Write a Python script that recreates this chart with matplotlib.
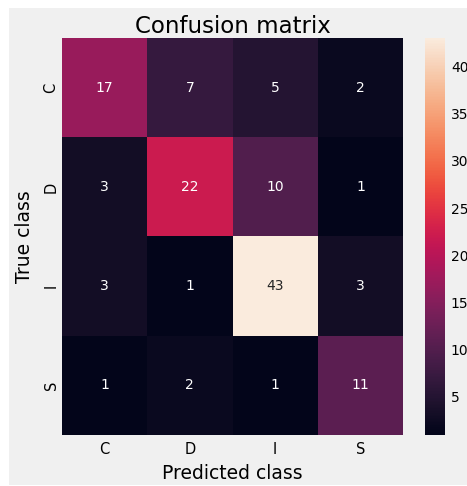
import matplotlib
matplotlib.use("Agg")
import matplotlib.pyplot as plt
from matplotlib.patches import Rectangle
import numpy as np
import seaborn as sns

plt.style.use("fivethirtyeight")

classes = ["C", "D", "I", "S"]
row_C = [17, 7, 5, 2]
row_D = [3, 22, 10, 1]
row_I = [3, 1, 43, 3]
row_S = [1, 2, 1, 11]
matrix = np.array([row_C, row_D, row_I, row_S])

W, H = 467, 486
fig = plt.figure(figsize=(W / 100, H / 100), dpi=100, facecolor="white")
fig.patch.set_linewidth(0)
fig.patches.append(Rectangle((9 / W, 1 / H), 1 - 9 / W, 477 / H,
                             transform=fig.transFigure, facecolor="#f0f0f0",
                             edgecolor="none", linewidth=0, zorder=-10))

ax = fig.add_axes([62 / W, 1 - 434.7 / H, (403 - 62) / W, (434.7 - 38.3) / H])
cax = fig.add_axes([424.7 / W, 1 - 434.7 / H, 20.6 / W, (434.7 - 38.3) / H])

sns.heatmap(matrix, annot=True, fmt="d", cmap="rocket", ax=ax, cbar_ax=cax,
            xticklabels=classes, yticklabels=classes,
            annot_kws={"fontsize": 10})

ax.set_title("Confusion matrix", fontsize=16.5, pad=3)
ax.set_xlabel("Predicted class", fontsize=13.5, labelpad=5)
ax.set_ylabel("True class", fontsize=13.5, labelpad=7)
ax.tick_params(axis="x", labelsize=10.5, length=0, pad=5)
ax.tick_params(axis="y", labelsize=10.5, length=0, pad=2.5)
ax.set_yticklabels(classes, rotation=90, va="center")
ax.grid(False)

cax.tick_params(labelsize=10, length=0, pad=4)
cax.grid(False)
for s in cax.spines.values():
    s.set_visible(False)

fig.savefig("out.png", dpi=100, facecolor="white", edgecolor="white")
